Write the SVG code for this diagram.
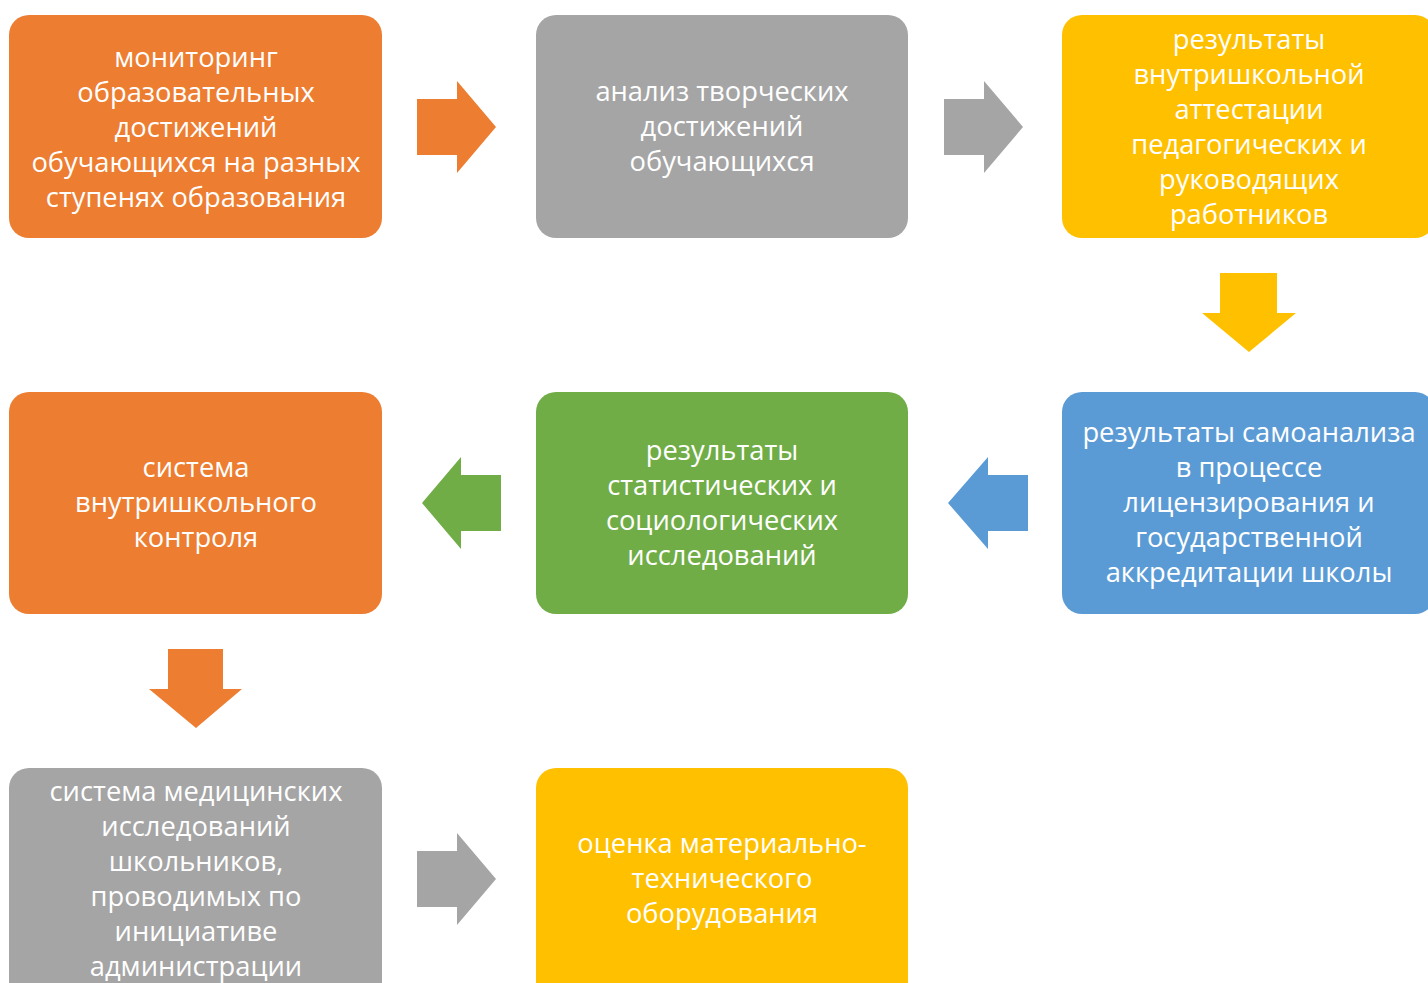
<svg xmlns="http://www.w3.org/2000/svg" width="1428" height="983" viewBox="0 0 1428 983">
<style>
.t{font-family:"Open Sans","Noto Sans",sans-serif;font-size:27.3px;fill:#fff;text-anchor:middle}
.or{fill:#ED7D31}.gr{fill:#A5A5A5}.ye{fill:#FFC000}.bl{fill:#5B9BD5}.gn{fill:#70AD47}
</style>
<rect width="1428" height="983" fill="#fff"/>
<g id="connectors">
<polygon class="or" points="417,99 457,99 457,81 496,127 457,173 457,155 417,155"/>
<polygon class="gr" points="944,99 984,99 984,81 1023,127 984,173 984,155 944,155"/>
<polygon class="ye" points="1220,273 1277,273 1277,313 1296,313 1249,352 1202,313 1220,313"/>
<polygon class="bl" points="1028,475 988,475 988,457 948,503 988,549 988,531 1028,531"/>
<polygon class="gn" points="501,475 461,475 461,457 422,503 461,549 461,531 501,531"/>
<polygon class="or" points="168,649 223,649 223,689 242,689 196,728 149,689 168,689"/>
<polygon class="gr" points="417,851 457,851 457,833 496,879 457,925 457,907 417,907"/>
</g>
<g id="n1"><rect class="or" x="9" y="15" width="373" height="223" rx="20"/>
<text class="t" x="196" y="67">мониторинг</text><text class="t" x="196" y="102">образовательных</text><text class="t" x="196" y="137">достижений</text><text class="t" x="196" y="172">обучающихся на разных</text><text class="t" x="196" y="207">ступенях образования</text></g>
<g id="n2"><rect class="gr" x="536" y="15" width="372" height="223" rx="20"/>
<text class="t" x="722" y="101">анализ творческих</text><text class="t" x="722" y="136">достижений</text><text class="t" x="722" y="171">обучающихся</text></g>
<g id="n3"><rect class="ye" x="1062" y="15" width="373" height="223" rx="20"/>
<text class="t" x="1249" y="49">результаты</text><text class="t" x="1249" y="84">внутришкольной</text><text class="t" x="1249" y="119">аттестации</text><text class="t" x="1249" y="154">педагогических и</text><text class="t" x="1249" y="189">руководящих</text><text class="t" x="1249" y="224">работников</text></g>
<g id="n4"><rect class="or" x="9" y="392" width="373" height="222" rx="20"/>
<text class="t" x="196" y="477">система</text><text class="t" x="196" y="512">внутришкольного</text><text class="t" x="196" y="547">контроля</text></g>
<g id="n5"><rect class="gn" x="536" y="392" width="372" height="222" rx="20"/>
<text class="t" x="722" y="460">результаты</text><text class="t" x="722" y="495">статистических и</text><text class="t" x="722" y="530">социологических</text><text class="t" x="722" y="565">исследований</text></g>
<g id="n6"><rect class="bl" x="1062" y="392" width="373" height="222" rx="20"/>
<text class="t" x="1249" y="442">результаты самоанализа</text><text class="t" x="1249" y="477">в процессе</text><text class="t" x="1249" y="512">лицензирования и</text><text class="t" x="1249" y="547">государственной</text><text class="t" x="1249" y="582">аккредитации школы</text></g>
<g id="n7"><rect class="gr" x="9" y="768" width="373" height="240" rx="20"/>
<text class="t" x="196" y="801">система медицинских</text><text class="t" x="196" y="836">исследований</text><text class="t" x="196" y="871">школьников,</text><text class="t" x="196" y="906">проводимых по</text><text class="t" x="196" y="941">инициативе</text><text class="t" x="196" y="976">администрации</text></g>
<g id="n8"><rect class="ye" x="536" y="768" width="372" height="240" rx="20"/>
<text class="t" x="722" y="853">оценка материально-</text><text class="t" x="722" y="888">технического</text><text class="t" x="722" y="923">оборудования</text></g>
</svg>
